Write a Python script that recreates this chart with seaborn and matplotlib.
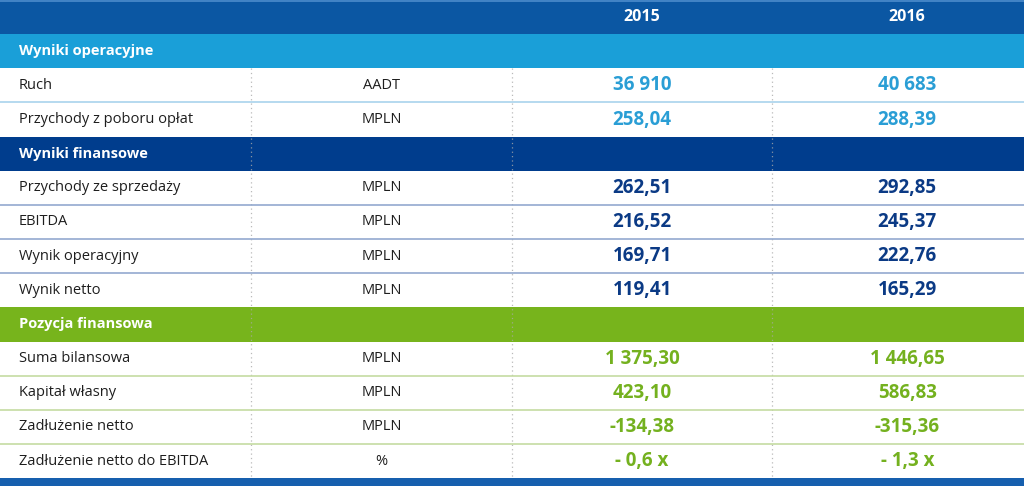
import pandas as pd
import seaborn as sns
import matplotlib.pyplot as plt
from matplotlib.colors import ListedColormap

# =========================
# data

years = ['2015', '2016']

sections = ['Wyniki operacyjne', 'Wyniki finansowe', 'Pozycja finansowa']

oper_labels = ['Ruch', 'Przychody z poboru opłat']
oper_units = ['AADT', 'MPLN']
oper_2015 = [36910, 258.04]
oper_2016 = [40683, 288.39]
oper_decimals = [0, 2]

fin_labels = ['Przychody ze sprzedaży', 'EBITDA', 'Wynik operacyjny', 'Wynik netto']
fin_units = ['MPLN', 'MPLN', 'MPLN', 'MPLN']
fin_2015 = [262.51, 216.52, 169.71, 119.41]
fin_2016 = [292.85, 245.37, 222.76, 165.29]
fin_decimals = [2, 2, 2, 2]

poz_labels = ['Suma bilansowa', 'Kapitał własny', 'Zadłużenie netto',
              'Zadłużenie netto do EBITDA']
poz_units = ['MPLN', 'MPLN', 'MPLN', '%']
poz_2015 = [1375.30, 423.10, -134.38, -0.6]
poz_2016 = [1446.65, 586.83, -315.36, -1.3]
poz_decimals = [2, 2, 2, 'ratio']

# colours
header_col = '#0b57a3'
band_cols = ['#1a9fd8', '#003d8d', '#77b41c']
value_cols = ['#2a9ed5', '#0b3a85', '#74b11f']
sep_cols = ['#a9d3ec', '#93a9cf', '#c5dba2']
bottom_col = '#165fae'


def pl_format(v, dec):
    # polish number formatting: space thousands, comma decimals
    if dec == 'ratio':
        return '- ' + ('%.1f' % abs(v)).replace('.', ',') + ' x'
    s = '{:,.{d}f}'.format(v, d=dec)
    return s.replace(',', ' ').replace('.', ',')


blocks = [
    (sections[0], oper_labels, oper_units, oper_2015, oper_2016, oper_decimals),
    (sections[1], fin_labels, fin_units, fin_2015, fin_2016, fin_decimals),
    (sections[2], poz_labels, poz_units, poz_2015, poz_2016, poz_decimals),
]

# build the row table
rows = [{'kind': 'header', 'code': 0}]
for ib, (title, labs, units, v15, v16, decs) in enumerate(blocks):
    rows.append({'kind': 'section', 'code': ib + 1, 'label': title, 'block': ib})
    for j in range(len(labs)):
        rows.append({'kind': 'data', 'code': 4, 'label': labs[j], 'unit': units[j],
                     'v15': pl_format(v15[j], decs[j]),
                     'v16': pl_format(v16[j], decs[j]),
                     'block': ib, 'first': j == 0})
rows.append({'kind': 'bottom', 'code': 5})
df = pd.DataFrame(rows)

# ================
# PLOTTING
# ================

sns.set_theme(style="white")
plt.rcParams['font.family'] = ['Open Sans', 'DejaVu Sans']

fig = plt.figure(figsize=(10.24, 4.86), dpi=100)
ax = fig.add_axes([0, 0, 1, 1])

cmap = ListedColormap([header_col, band_cols[0], band_cols[1], band_cols[2],
                       'white', bottom_col])
sns.heatmap(df[['code']], cmap=cmap, vmin=-0.5, vmax=5.5, cbar=False,
            xticklabels=False, yticklabels=False, ax=ax)

n_rows = len(df) - 1
row_px = 34.15
ax.set_ylim(486 / row_px, 0)
ax.set_xlim(0, 1)

# column layout (fractions of width)
col_lines = [0.245, 0.5, 0.754]
x_label = 0.0186
x_unit = 0.3725
x_2015 = 0.627
x_2016 = 0.886

# header
ax.axhline(0.02, color='#4d8dcc', lw=1.2)
ax.text(x_2015, 0.5, years[0], ha='center', va='center', color='white',
        fontsize=11.5, fontweight='bold')
ax.text(x_2016, 0.5, years[1], ha='center', va='center', color='white',
        fontsize=11.5, fontweight='bold')

# dotted column separators
for xl in col_lines:
    ax.vlines(xl, 2, n_rows, colors='#a9a9a9', linestyles=(0, (1, 2.5)),
              lw=0.9, alpha=0.8)

for i, r in df.iterrows():
    yc = i + 0.5
    if r['kind'] == 'section':
        ax.text(x_label, yc, r['label'], ha='left', va='center', color='white',
                fontsize=10.5, fontweight='bold')
    elif r['kind'] == 'data':
        b = int(r['block'])
        if not r['first']:
            ax.axhline(i, color=sep_cols[b], lw=1.2)
        ax.text(x_label, yc, r['label'], ha='left', va='center', color='#1e1e1e',
                fontsize=10.5)
        ax.text(x_unit, yc, r['unit'], ha='center', va='center', color='#1e1e1e',
                fontsize=10.5)
        ax.text(x_2015, yc, r['v15'], ha='center', va='center', color=value_cols[b],
                fontsize=13.5, fontweight='bold')
        ax.text(x_2016, yc, r['v16'], ha='center', va='center', color=value_cols[b],
                fontsize=13.5, fontweight='bold')

ax.axis('off')
plt.savefig('out.png', dpi=100)
plt.close()
